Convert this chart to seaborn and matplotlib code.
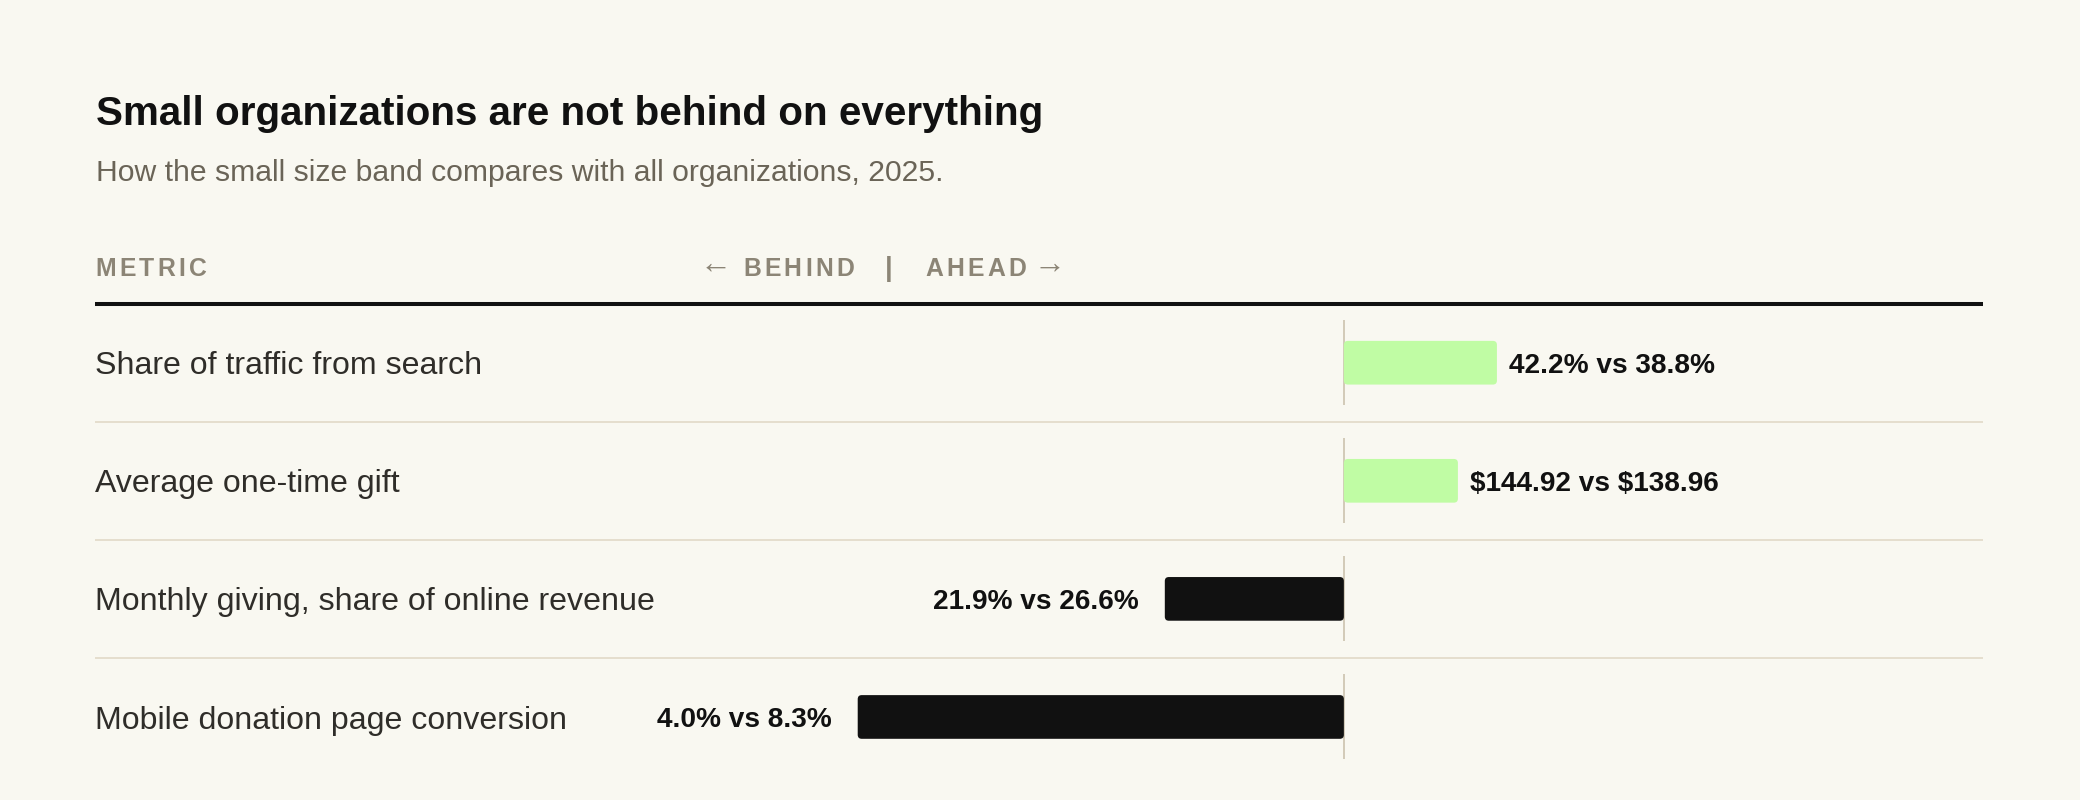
import numpy as np
import pandas as pd
import seaborn as sns
import matplotlib.pyplot as plt
from matplotlib.patches import FancyBboxPatch

# data
metrics = ["Share of traffic from search", "Average one-time gift",
           "Monthly giving, share of online revenue", "Mobile donation page conversion"]
small_vals = ["42.2%", "$144.92", "21.9%", "4.0%"]
all_vals = ["38.8%", "$138.96", "26.6%", "8.3%"]
gap = [15.3, 11.4, -17.9, -48.6]  # bar length, as drawn

BG = "#f9f8f1"
INK = "#111111"
GREEN = "#c0fca4"
HEAD = "#8c8576"
SEP = "#e3dccb"
ZERO = "#c8bea8"

sns.set_theme(style="white")
plt.rcParams["font.family"] = ["Liberation Sans", "DejaVu Sans"]
plt.rcParams["text.parse_math"] = False

W, H = 2080, 800
fig = plt.figure(figsize=(W / 100, H / 100), dpi=100, facecolor=BG)
ax = fig.add_axes([0.0459, 0.03, 0.9075, 0.5904])
ax.set_facecolor(BG)

df = pd.DataFrame({"metric": metrics, "gap": gap})
df["side"] = np.where(df["gap"] >= 0, "ahead", "behind")

sns.barplot(data=df, x="gap", y="metric", hue="side",
            palette={"ahead": GREEN, "behind": INK}, saturation=1,
            width=0.37, dodge=False, legend=False, ax=ax, zorder=3)

x0, x1 = -124.8, 63.9
ax.set_xlim(x0, x1)
ax.set_ylim(3.5, -0.5)
ax.set_axis_off()

# rounded bar ends
bb = ax.get_position()
xpp = (x1 - x0) / (bb.width * W)
ypp = 4 / (bb.height * H)
for p in list(ax.patches):
    w, h = p.get_width(), p.get_height()
    if not w or np.isnan(w):
        p.remove()
        continue
    bx = min(p.get_x(), p.get_x() + w)
    by = min(p.get_y(), p.get_y() + h)
    fb = FancyBboxPatch((bx, by), abs(w), abs(h),
                        boxstyle=f"round,pad=0,rounding_size={4 * xpp}",
                        mutation_aspect=ypp / xpp,
                        fc=p.get_facecolor(), ec="none", zorder=3)
    p.remove()
    ax.add_patch(fb)

rows = np.arange(len(metrics))
ax.vlines(np.zeros(len(rows)), rows - 0.36, rows + 0.36, color=ZERO, lw=1.1, zorder=2)
ax.hlines(rows[:-1] + 0.5, x0, x1, color=SEP, lw=1.3, zorder=1)
ax.hlines(-0.5, x0, x1, color=INK, lw=2.9, zorder=4, clip_on=False)

lab_size = 23.1
val_size = 20.2
for i, m in enumerate(metrics):
    ax.annotate(m, xy=(x0, i), xytext=(0, -0.36 * lab_size), textcoords="offset points",
                ha="left", va="baseline", fontsize=lab_size, color="#2f2d29")
    txt = f"{small_vals[i]} vs {all_vals[i]}"
    if gap[i] >= 0:
        off, ha = 9, "left"
    else:
        off, ha = -19, "right"
    ax.annotate(txt, xy=(gap[i], i), xytext=(off, -0.36 * val_size), textcoords="offset points",
                ha=ha, va="baseline", fontsize=val_size, fontweight="bold", color=INK)

fig.text(95.5 / W, 1 - 125 / H, "Small organizations are not behind on everything",
         fontsize=29.1, fontweight="bold", color=INK, va="baseline")
fig.text(95.5 / W, 1 - 181 / H, "How the small size band compares with all organizations, 2025.",
         fontsize=21.7, color="#6a6457", va="baseline")

# header with letter spacing
renderer = fig.canvas.get_renderer()


def spaced(x_px, word, gap_px=3.3, size=17.8):
    x = x_px
    for ch in word:
        t = fig.text(x / W, 1 - 276 / H, ch, fontsize=size, fontweight="bold",
                     color=HEAD, va="baseline")
        x += t.get_window_extent(renderer).width + gap_px
    return x


spaced(95.5, "METRIC")
spaced(743, "BEHIND")
spaced(925, "AHEAD")
fig.text(716 / W, 1 - 265 / H, "\u2190", fontsize=23, color=HEAD, ha="center", va="center")
fig.text(1050 / W, 1 - 265 / H, "\u2192", fontsize=23, color=HEAD, ha="center", va="center")
fig.text(889 / W, 1 - 269 / H, "|", fontsize=20, fontweight="bold", color=HEAD,
         ha="center", va="center")

fig.savefig("out.png", dpi=100, facecolor=BG)
